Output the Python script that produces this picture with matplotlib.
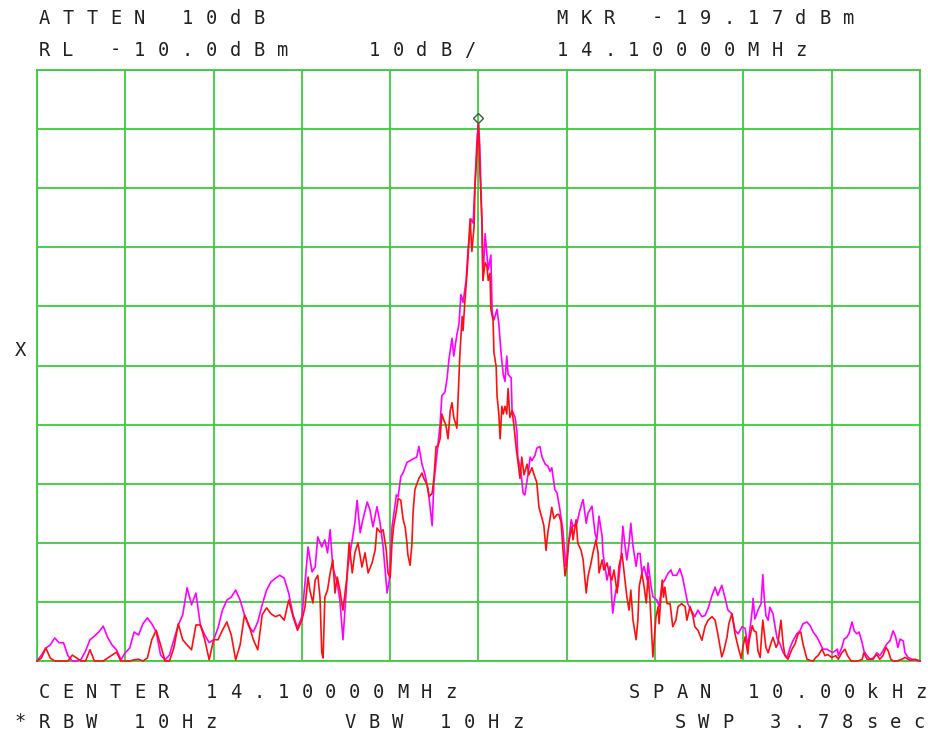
import matplotlib
matplotlib.use("Agg")
import matplotlib.pyplot as plt
import matplotlib.transforms as mtransforms

# ---------------- data (frequency offset from 14.1 MHz in kHz, level in dBm) -------------
ref_level_dbm = -10.0
db_per_div = 10.0
center_mhz = 14.10000
span_khz = 10.0
marker_khz = 0.0
marker_dbm = -19.17

# outer sweep points shared by both traces (left wing)
outer_khz = [-5.00, -4.95, -4.90, -4.85, -4.80, -4.75, -4.70, -4.65, -4.60, -4.55,
             -4.50, -4.45, -4.40, -4.35, -4.30, -4.25, -4.20, -4.15, -4.10, -4.05,
             -4.00, -3.95, -3.90, -3.85, -3.80, -3.75, -3.70, -3.65, -3.60, -3.55,
             -3.50, -3.45, -3.40, -3.35, -3.30, -3.25, -3.20, -3.15, -3.10, -3.05,
             -3.00, -2.95, -2.90, -2.85, -2.80, -2.75, -2.70, -2.65, -2.60, -2.55,
             -2.50, -2.45, -2.40, -2.35, -2.30, -2.25, -2.20, -2.15, -2.10, -2.05]

magenta_outer_dbm = [-110, -109, -107.8, -107.3, -106.1, -106.9, -106.9, -109.1, -110, -110,
                     -109.7, -108.3, -106.4, -105.8, -105.1, -104.1, -106, -107.3, -108.1, -109.8,
                     -108.6, -107.8, -105.1, -105.6, -103.7, -102.7, -103.7, -105.1, -109, -109.8,
                     -109, -106.4, -103.9, -102.2, -97.6, -100.5, -98.5, -103.9, -105.6, -106.9,
                     -106.4, -104.4, -101.4, -99.7, -99.2, -98, -99.7, -102.2, -104.2, -105.1,
                     -103.4, -100.5, -98, -96.6, -96, -95.5, -96, -98.5, -102.2, -104.4]

red_outer_dbm = [-110, -109.5, -107.8, -109.5, -110, -110, -110, -110, -109, -109.5,
                 -110, -110, -108.1, -110, -110, -110, -109.5, -109, -108.5, -110,
                 -110, -110, -109.8, -109.7, -110, -109.5, -106.4, -104.8, -107.3, -110,
                 -110, -107.8, -103.7, -106.4, -107.3, -108.1, -103.9, -103.9, -106.4, -109.8,
                 -106.4, -106.4, -104.8, -103.4, -105.6, -109.8, -107.3, -102.2, -103.9, -106.4,
                 -108.1, -102.2, -101, -102, -102.5, -102.2, -103.1, -99.7, -102.5, -104.8]

magenta_khz = [-2.00, -1.965, -1.93, -1.885, -1.85, -1.82, -1.775, -1.74, -1.71, -1.68,
               -1.65, -1.60, -1.57, -1.535, -1.51, -1.48, -1.43, -1.40, -1.375, -1.34,
               -1.31, -1.26, -1.23, -1.195, -1.15, -1.115, -1.08, -1.035, -1.01,
               -0.98, -0.96, -0.93, -0.91, -0.88, -0.855, -0.81, -0.775, -0.74, -0.70,
               -0.675, -0.64, -0.605, -0.57, -0.525, -0.505, -0.47, -0.435, -0.415, -0.38,
               -0.355, -0.335, -0.30, -0.28, -0.245, -0.22, -0.20, -0.175, -0.14, -0.12,
               -0.085, -0.06, -0.04, -0.015, 0.00,
               0.015, 0.04, 0.05, 0.075, 0.095, 0.11, 0.14, 0.155, 0.175, 0.21,
               0.23, 0.255, 0.28, 0.30, 0.32, 0.335, 0.37, 0.38, 0.415, 0.435,
               0.445, 0.48, 0.505, 0.525, 0.56, 0.585, 0.605, 0.64, 0.66, 0.695,
               0.72, 0.755, 0.785, 0.81, 0.83, 0.865, 0.89,
               0.92, 0.955, 0.99, 1.015, 1.05, 1.07, 1.115, 1.14, 1.17, 1.185,
               1.22, 1.24, 1.285, 1.32, 1.34, 1.365, 1.40, 1.41, 1.455, 1.49,
               1.51, 1.52, 1.555, 1.58, 1.615, 1.635, 1.66, 1.68, 1.705, 1.725,
               1.75, 1.785, 1.805, 1.83, 1.85, 1.875, 1.91, 1.92, 1.955, 1.975,
               2.02, 2.045,
               2.08, 2.11, 2.145, 2.18, 2.20, 2.245, 2.28, 2.31, 2.34, 2.37,
               2.42, 2.45, 2.485, 2.53, 2.565, 2.60, 2.645, 2.68, 2.71, 2.755,
               2.79, 2.825, 2.87, 2.905, 2.94, 2.985, 3.02, 3.05,
               3.10, 3.11, 3.13, 3.165, 3.20, 3.22, 3.235, 3.255, 3.28, 3.30,
               3.335, 3.36, 3.38, 3.415, 3.45, 3.495, 3.53, 3.56, 3.605, 3.64,
               3.675, 3.72, 3.755, 3.79, 3.835, 3.87, 3.90, 3.945, 3.98, 4.01, 4.065,
               4.075, 4.115, 4.14, 4.17, 4.195, 4.23, 4.255, 4.285, 4.31, 4.345,
               4.365, 4.40, 4.435, 4.47, 4.51, 4.545, 4.58, 4.625, 4.66, 4.695,
               4.72, 4.75, 4.775, 4.81, 4.83, 4.865, 4.91, 4.965, 5.00]

magenta_dbm = [-102.5, -96.8, -90.7, -94.9, -94.1, -89, -90.7, -89.5, -91.7, -87.8,
               -94.1, -96.8, -99.7, -106.4, -100.9, -94.1, -89.5, -86.6, -82.8, -88.3,
               -86.1, -83.1, -84.4, -87.3, -83.9, -86.6, -90.7, -98.5, -96.3,
               -87.4, -85.2, -81.9, -82.2, -78.8, -78.2, -76.4, -76.1, -75.8, -75.5,
               -73.7, -76.7, -78.5, -81, -87.1, -79.8, -74.9, -70, -65.1, -64.5,
               -62.1, -59, -55.4, -58.4, -54.8, -52.9, -48, -49.3, -45.6, -40.7,
               -35.2, -35.9, -29.1, -21.2, -19.17,
               -23, -36.5, -45.6, -37.7, -41.3, -43.8, -41.3, -51.1, -52.3, -50.5,
               -52.9, -57.8, -61.5, -62.7, -58.4, -61.5, -62.1, -67.6, -68.8, -71.2,
               -75.5, -77.9, -81.6, -81.9, -78.5, -75.5, -76.1, -75.2, -74, -73.7,
               -75.5, -76.7, -77, -77.9, -77.3, -81, -81.6,
               -84.2, -87.8, -94, -90.6, -86.1, -87.2, -86.7, -85, -83.3, -82.7,
               -86.7, -85, -83.8, -88.4, -89.5, -85.5, -88.9, -91.8, -96.3, -94,
               -99.7, -101.9, -98, -97.4, -92.3, -87.2, -90.6, -92.9, -90.1, -86.7,
               -90.6, -94, -91.8, -91.8, -95.1, -94, -96.3, -93.4, -97.4, -99.1,
               -99.7, -100.8,
               -96.9, -96.3, -95.2, -94.6, -95.5, -95.5, -94.4, -95.8, -98, -100.3,
               -101.7, -102.5, -101.4, -102.5, -102.3, -101.1, -98.9, -97.5, -98.9, -97.2,
               -99.2, -101.4, -102, -104.8, -105.4, -104.2, -104.5, -107.6,
               -101.4, -99.4, -102.9, -101.4, -100.3, -95.4, -99.1, -102.3, -103.1, -100.9,
               -102, -104.3, -106, -107.1, -108.6, -109.4, -107.7, -106.6, -105.4, -104.9,
               -103.7, -103.4, -104, -105.1, -106, -107.1, -108, -108, -108.3, -108.6, -108,
               -109.1, -107.7, -106.3, -106, -105.4, -103.4, -104.9, -105.4, -105.1, -106.9,
               -108.3, -109.1, -109.7, -109.7, -108.6, -109.1, -108.3, -107.1, -106.6, -104.9,
               -105.7, -107.7, -106.3, -106.6, -108.6, -109.4, -109.7, -109.9, -110]

red_khz = [-2.00, -1.965, -1.93, -1.91, -1.875, -1.85, -1.82, -1.795, -1.775, -1.76,
           -1.74, -1.71, -1.68, -1.65, -1.625, -1.60, -1.57, -1.535, -1.49, -1.465,
           -1.43, -1.40, -1.365, -1.32, -1.285, -1.25, -1.205, -1.17, -1.15, -1.115,
           -1.08, -1.045, -1.025,
           -1.00, -0.98, -0.96, -0.93, -0.91, -0.88, -0.855, -0.83, -0.81, -0.80,
           -0.775, -0.755, -0.74, -0.72, -0.70, -0.675, -0.64, -0.62, -0.585, -0.56,
           -0.525, -0.505, -0.48, -0.46, -0.435, -0.415, -0.39, -0.37, -0.345, -0.32,
           -0.30, -0.28, -0.245, -0.23, -0.21, -0.185, -0.175, -0.155, -0.13, -0.12,
           -0.095, -0.075, -0.05, -0.04, -0.015, 0.00,
           0.015, 0.04, 0.05, 0.075, 0.095, 0.11, 0.13, 0.14, 0.165, 0.175,
           0.20, 0.21, 0.23, 0.245, 0.265, 0.28, 0.30, 0.32, 0.335, 0.355,
           0.38, 0.40, 0.425, 0.445, 0.47, 0.49, 0.515, 0.55, 0.57, 0.605,
           0.63, 0.66, 0.685, 0.72, 0.74, 0.765, 0.785, 0.81, 0.83, 0.855,
           0.89, 0.91, 0.935, 0.955, 0.98, 1.00, 1.025,
           1.06, 1.07, 1.105, 1.125, 1.16, 1.185, 1.22, 1.24, 1.275, 1.295,
           1.33, 1.355, 1.365, 1.40, 1.42, 1.455, 1.48, 1.51, 1.535, 1.57,
           1.59, 1.625, 1.65, 1.68, 1.705, 1.725, 1.75, 1.785, 1.805, 1.82,
           1.85, 1.875, 1.90, 1.92, 1.94, 1.965, 1.975, 2.01, 2.035,
           2.045, 2.08, 2.095, 2.11, 2.135, 2.17, 2.20, 2.235, 2.26, 2.30,
           2.34, 2.36, 2.395, 2.43, 2.45, 2.485, 2.53, 2.565, 2.60, 2.645,
           2.68, 2.71, 2.755, 2.78, 2.815, 2.835, 2.87, 2.905, 2.94, 2.975,
           2.995, 3.02, 3.05,
           3.065, 3.10, 3.12, 3.145, 3.165, 3.19, 3.21, 3.22, 3.255, 3.28,
           3.31, 3.335, 3.37, 3.39, 3.425, 3.45, 3.47, 3.505, 3.55, 3.585,
           3.62, 3.65, 3.675, 3.72, 3.755, 3.79, 3.82, 3.845, 3.89, 3.925,
           3.955, 4.00, 4.045, 4.075,
           4.115, 4.15, 4.18, 4.22, 4.265, 4.30, 4.345, 4.365, 4.40, 4.435,
           4.47, 4.51, 4.545, 4.58, 4.615, 4.64, 4.67, 4.695, 4.74, 4.795,
           4.83, 4.89, 4.945, 5.00]

red_dbm = [-103.1, -100.9, -95.8, -98, -100.2, -96.3, -95.5, -99.2, -108.6, -109.5,
           -99.2, -98, -95.1, -92.9, -98.5, -95.8, -98, -101.4, -95.8, -90,
           -95.1, -91.7, -90, -94.1, -91.7, -95.1, -93.4, -91.2, -87.5, -88.2,
           -87.8, -91.2, -95.1,
           -95.9, -90.1, -87.1, -84.6, -82.5, -82.8, -85.9, -87.4, -90.1, -92,
           -93.8, -90.4, -84.6, -81, -80.1, -79.1, -78.2, -79.1, -80.1, -82.2,
           -81.6, -79.1, -73.7, -73.7, -72.4, -68.2, -69.4, -70, -72.4, -67.6,
           -66.3, -68.8, -70.6, -65.1, -57.8, -51.7, -54.1, -49.3, -44.4, -42,
           -35.2, -40.7, -36.5, -29.8, -23, -19.17,
           -26.7, -35.9, -45.6, -42.6, -43.2, -45.6, -44.4, -50.5, -52.3, -57.8,
           -60.2, -65.1, -68.2, -72.4, -66.9, -68.2, -66.9, -68.2, -63.9, -68.8,
           -67.6, -70, -73.7, -76.1, -79.1, -75.5, -78.5, -76.7, -78.5, -77.3,
           -78.5, -79.8, -84, -85.9, -87.1, -91.3, -88.3, -85.9, -84, -85.9,
           -85.2, -85.2, -86.5, -90.8, -95.6, -93.8, -89.6,
           -87.2, -89.5, -86.1, -90.1, -91.2, -92.9, -98.5, -95.7, -93.4, -91.8,
           -89.5, -91.8, -95.1, -92.9, -94.6, -93.4, -95.1, -96.3, -94.6, -98.5,
           -94, -91.8, -95.1, -99.1, -101.4, -98, -103.1, -106.4, -103.1, -97.4,
           -95.1, -97.4, -100.2, -95.7, -99.1, -106.4, -109.3, -102.5, -100.8,
           -103.7, -96.3, -99.2, -97.5, -100.3, -100.3, -104.2, -103.1, -100.8, -100.3,
           -100.8, -103.1, -100.8, -102.5, -104.2, -104.8, -106.5, -104.2, -103.1, -102.5,
           -103.1, -105.4, -109.3, -108.2, -105.9, -103.7, -102, -105.4, -107.6, -109.6,
           -107.6, -105.9, -108.8,
           -106.6, -104, -104.9, -105.1, -108.3, -109.4, -104.9, -103.1, -107.7, -108.6,
           -107.1, -106, -107.7, -107.1, -103.1, -107.1, -109.1, -109.7, -108, -107.1,
           -105.4, -105.1, -107.1, -109.7, -109.9, -110, -109.4, -109.1, -108, -109.1,
           -108.9, -109.4, -109.1, -109.7,
           -108.6, -108, -109.1, -110, -110, -110, -109.7, -108.6, -109.7, -109.7,
           -109.5, -108.9, -109.7, -109.1, -107.7, -108.3, -109.7, -110, -110, -109.7,
           -109.4, -109.9, -109.7, -110]

header_left_1 = "ATTEN 10dB"
header_left_2 = "RL -10.0dBm"
header_mid_2 = "10dB/"
header_right_1 = "MKR -19.17dBm"
header_right_2 = "14.10000MHz"
footer_left_1 = "CENTER 14.10000MHz"
footer_right_1 = "SPAN 10.00kHz"
footer_left_2 = "*RBW 10Hz"
footer_mid_2 = "VBW 10Hz"
footer_right_2 = "SWP 3.78sec"

# ---------------- figure ----------------
W, H = 929, 739
fig = plt.figure(figsize=(W / 100, H / 100), dpi=100)
fig.patch.set_facecolor("white")

ax_left, ax_right, ax_top, ax_bot = 37, 920, 70, 661
ax = fig.add_axes([ax_left / W, (H - ax_bot) / H, (ax_right - ax_left) / W, (ax_bot - ax_top) / H])
ax.set_facecolor("white")

bottom_dbm = ref_level_dbm - 10 * db_per_div
ax.set_xlim(-span_khz / 2, span_khz / 2)
ax.set_ylim(bottom_dbm, ref_level_dbm)

grid_color = "#3ccc3c"
for k in range(11):
    ax.axvline(-span_khz / 2 + k * span_khz / 10, color=grid_color, lw=1.3, zorder=1)
    ax.axhline(bottom_dbm + k * db_per_div, color=grid_color, lw=1.3, zorder=1)
for s in ax.spines.values():
    s.set_color(grid_color)
    s.set_linewidth(1.3)
ax.set_xticks([])
ax.set_yticks([])

ax.plot(outer_khz + magenta_khz, magenta_outer_dbm + magenta_dbm, color="#ff00ff",
        lw=1.2, zorder=3, clip_on=False)
ax.plot(outer_khz + red_khz, red_outer_dbm + red_dbm, color="#ff1010",
        lw=1.2, zorder=4, clip_on=False)

# marker diamond sitting just above the peak
off = mtransforms.offset_copy(ax.transData, fig=fig, x=0, y=6, units="dots")
ax.plot([marker_khz], [marker_dbm], marker="D", ms=5.5, mfc="none", mec="#3a5a3a",
        mew=1.0, transform=off, zorder=5, clip_on=False)

# ---------------- plotter style text ----------------
PITCH = 23.9
text_color = "#222222"


def hp_text(s, x_start, y_center):
    for k, ch in enumerate(s):
        if ch == " ":
            continue
        fig.text((x_start + 7 + k * PITCH) / W, 1 - y_center / H, ch, ha="center", va="center",
                 fontsize=13.5, family="DejaVu Sans Mono", color=text_color)


hp_text(header_left_1, 37, 18)
hp_text(header_right_1, 555, 18)
hp_text(header_left_2, 37, 50)
hp_text(header_mid_2, 367, 50)
hp_text(header_right_2, 555, 50)
hp_text(footer_left_1, 37, 692)
hp_text(footer_right_1, 627, 692)
hp_text(footer_left_2, 13, 722)
hp_text(footer_mid_2, 343, 722)
hp_text(footer_right_2, 673, 722)
hp_text("X", 13, 350)

fig.savefig("out.png", dpi=100, facecolor="white")
